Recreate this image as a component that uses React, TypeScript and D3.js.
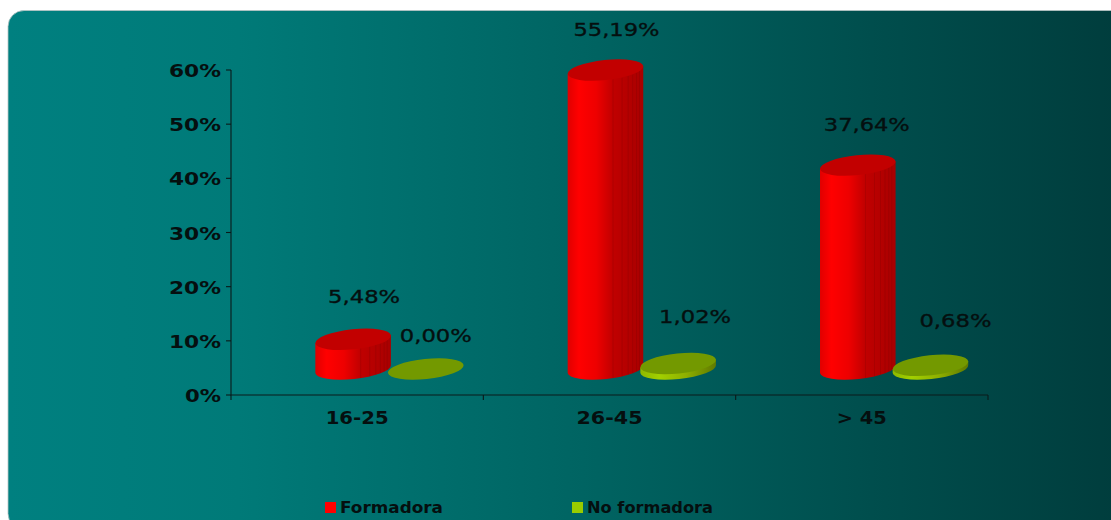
import React from "react";
import * as d3 from "d3";

const categories = ["16-25", "26-45", "> 45"];
const formadora = [5.48, 55.19, 37.64];
const noFormadora = [0.0, 1.02, 0.68];
const yTicks = [0, 10, 20, 30, 40, 50, 60];

const W = 1111, H = 520;
const x = d3.scaleBand<string>().domain(categories).range([231, 988]);
const y = d3.scaleLinear().domain([0, 60]).range([395, 70]);
const FLOOR = 26; // pseudo-3D depth of the floor
const RX = 38, RY = 10, TILT = -6;
const fmt = (v: number) => v.toFixed(2).replace(".", ",") + "%";
const font = "'DejaVu Sans', Verdana, sans-serif";
const ink = "#050f0f";

function Cylinder({ cx, value, fill, top, edge }: { cx: number; value: number; fill: string; top: string; edge?: string }) {
  const yTop = y(value) - FLOOR;
  const yBase = y(0) - FLOOR;
  const a = (TILT * Math.PI) / 180;
  const dx = RX * Math.cos(a), dy = RX * Math.sin(a);
  const arc = `A${RX},${RY} ${TILT} 0 0 ${cx + dx},${yBase + dy}`;
  const d = `M${cx - dx},${yTop - dy}L${cx - dx},${yBase - dy}${arc}L${cx + dx},${yTop + dy}Z`;
  const stripes = [0.6, 0.72, 0.8, 0.86, 0.91, 0.95];
  return (
    <g>
      {value > 0 && <path d={d} fill={fill} />}
      {value > 3 && edge &&
        stripes.map((s) => {
          const sx = cx - dx + s * 2 * dx;
          const t = (sx - cx) / RX;
          const off = RY * Math.sqrt(Math.max(0, 1 - t * t));
          const lineY = (sx - cx) * Math.tan(a);
          return (
            <line key={s} x1={sx} x2={sx} y1={yTop + lineY + off} y2={yBase + lineY + off}
              stroke={edge} strokeWidth={0.7} opacity={0.3} />
          );
        })}
      <ellipse cx={cx} cy={yTop} rx={RX} ry={RY} fill={top} transform={`rotate(${TILT} ${cx} ${yTop})`} />
    </g>
  );
}

const redNudge = [
  [11, -43],
  [11, -41],
  [9, -41],
];
const greenNudge = [
  [10, -34],
  [17, -47],
  [25, -45],
];
const catWidth = [63, 66, 50];

export default function App() {
  const band = x.bandwidth();
  const redX = (c: string) => (x(c) as number) + band * 0.484;
  const greenX = (c: string) => (x(c) as number) + band * 0.772;
  return (
    <svg width={W} height={H} viewBox={`0 0 ${W} ${H}`} style={{ position: "absolute", left: 0, top: 0, display: "block" }}>
      <defs>
        <linearGradient id="bg" x1="0" x2="1" y1="0" y2="0">
          <stop offset="0" stopColor="#008080" />
          <stop offset="0.2" stopColor="#007a78" />
          <stop offset="0.5" stopColor="#006462" />
          <stop offset="0.75" stopColor="#004e4d" />
          <stop offset="1" stopColor="#003a3a" />
        </linearGradient>
        <linearGradient id="red" x1="0" x2="1" y1="0" y2="0">
          <stop offset="0" stopColor="#e00000" />
          <stop offset="0.15" stopColor="#ff0000" />
          <stop offset="0.38" stopColor="#ee0000" />
          <stop offset="0.6" stopColor="#c00000" />
          <stop offset="1" stopColor="#a80000" />
        </linearGradient>
        <linearGradient id="green" x1="0" x2="1" y1="0" y2="0">
          <stop offset="0" stopColor="#8db800" />
          <stop offset="0.25" stopColor="#a2d000" />
          <stop offset="0.6" stopColor="#8fb000" />
          <stop offset="1" stopColor="#5f7a00" />
        </linearGradient>
      </defs>
      <rect x={0} y={0} width={W} height={H} fill="#ffffff" />
      <rect x={8} y={10.5} width={W + 40} height={519} rx={16} ry={16} fill="url(#bg)" stroke="#b8c4c4" strokeWidth={0.8} />

      {/* axes */}
      <path d={`M231,${y(60)}V${y(0)}H988`} fill="none" stroke="#0a1a1a" strokeWidth={1.1} />
      {yTicks.map((t) => (
        <g key={t}>
          <line x1={226} x2={231} y1={y(t)} y2={y(t)} stroke="#0a1a1a" strokeWidth={1.1} />
          <text x={221} y={y(t) + 7} textAnchor="end" fontFamily={font} fontWeight="bold" fontSize={17}
            textLength={t === 0 ? 36 : 52} lengthAdjust="spacingAndGlyphs" fill={ink}>
            {t}%
          </text>
        </g>
      ))}
      {[...categories.map((c) => x(c) as number), 988].map((p) => (
        <line key={p} x1={p} x2={p} y1={395} y2={400} stroke="#0a1a1a" strokeWidth={1.1} />
      ))}
      {categories.map((c, i) => (
        <text key={c} x={(x(c) as number) + band / 2} y={424} textAnchor="middle" fontFamily={font} fontWeight="bold" fontSize={17}
          textLength={catWidth[i]} lengthAdjust="spacingAndGlyphs" fill={ink}>
          {c}
        </text>
      ))}

      {/* cylinders */}
      {categories.map((c, i) => (
        <g key={c}>
          <Cylinder cx={redX(c)} value={formadora[i]} fill="url(#red)" top="#c20000" edge="#6e0000" />
          <Cylinder cx={greenX(c)} value={noFormadora[i]} fill="url(#green)" top="#739900" />
        </g>
      ))}

      {/* data labels */}
      {categories.map((c, i) => (
        <g key={c} fontFamily={font} fontSize={18} fill={ink} stroke={ink} strokeWidth={0.35}>
          <text x={redX(c) + redNudge[i][0]} y={y(formadora[i]) - FLOOR + redNudge[i][1] + 7} textAnchor="middle" textLength={i === 0 ? 72 : 86} lengthAdjust="spacingAndGlyphs">
            {fmt(formadora[i])}
          </text>
          <text x={greenX(c) + greenNudge[i][0]} y={y(noFormadora[i]) - FLOOR + greenNudge[i][1] + 7} textAnchor="middle" textLength={72} lengthAdjust="spacingAndGlyphs">
            {fmt(noFormadora[i])}
          </text>
        </g>
      ))}

      {/* legend */}
      <rect x={325} y={502} width={11} height={11} fill="#ff0000" />
      <text x={340} y={513} fontFamily={font} fontWeight="bold" fontSize={15.5} textLength={103} lengthAdjust="spacingAndGlyphs" fill={ink}>Formadora</text>
      <rect x={572} y={502} width={11} height={11} fill="#99cc00" />
      <text x={587} y={513} fontFamily={font} fontWeight="bold" fontSize={15.5} textLength={126} lengthAdjust="spacingAndGlyphs" fill={ink}>No formadora</text>
    </svg>
  );
}
